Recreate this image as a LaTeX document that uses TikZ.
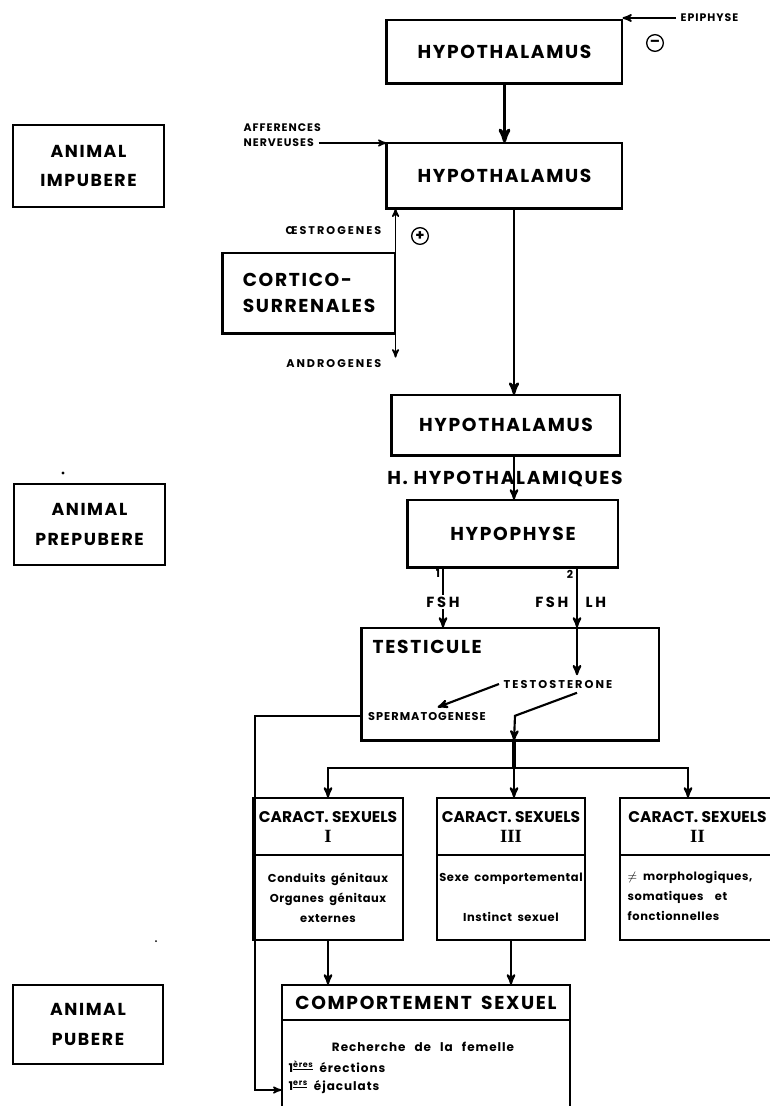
\documentclass[tikz,border=0pt]{standalone}
\usepackage{fontspec}
\setmainfont{Poppins}
\newfontfamily\spaced[LetterSpace=9]{Poppins}
\newfontfamily\widespaced[LetterSpace=18]{Poppins}
\newfontfamily\bodyfont[LetterSpace=5,WordSpace=1.8]{Poppins}
\newfontfamily\widebody[LetterSpace=8,WordSpace=2.6]{Poppins}
\newfontfamily\romanfont{Liberation Serif}
\usetikzlibrary{arrows}

% thick left and bottom edge of the heavy boxes
\newcommand\heavyside[1]{\draw[line width=2.4pt] (#1.north west) -- (#1.south west) -- (#1.south east);}

\begin{document}
\begin{tikzpicture}[x=0.75pt,y=-0.75pt,>=stealth',
  box/.style={draw,line width=0.8pt,inner sep=0pt,align=center},
  title/.style={font=\spaced\bfseries\fontsize{14}{19}\selectfont},
  animal/.style={font=\spaced\bfseries\fontsize{13}{22}\selectfont},
  caract/.style={font=\bfseries\fontsize{11.6}{15}\selectfont},
  lbl/.style={font=\widespaced\bfseries\fontsize{11}{13}\selectfont},
  mid/.style={font=\widespaced\bfseries\fontsize{8.5}{10}\selectfont},
  small/.style={font=\spaced\bfseries\fontsize{8.2}{11}\selectfont},
  body/.style={font=\bodyfont\bfseries\fontsize{8.6}{15}\selectfont},
  sign/.style={circle,draw,line width=1pt,inner sep=0pt,minimum size=12.5pt,font=\bfseries\fontsize{11}{11}\selectfont}]

  \useasboundingbox (0,0) rectangle (769,1106);

  % stages on the left
  \node[box,animal,minimum width=113.25pt,minimum height=61.5pt] (impub) at (88.5,166) {ANIMAL\\IMPUBERE};
  \node[box,animal,minimum width=113.25pt,minimum height=60.75pt] (prepub) at (89.5,524.5) {ANIMAL\\PREPUBERE};
  \node[box,animal,minimum width=112.5pt,minimum height=59.25pt] (pub) at (88,1024.5) {ANIMAL\\PUBERE};
  \fill (63,473) circle (1.6);
  \fill (156,941) circle (1);

  % upper chain
  \node[box,title,minimum width=176.25pt,minimum height=47.25pt] (hyp1) at (504.5,51.5) {HYPOTHALAMUS};
  \node[box,title,minimum width=176.25pt,minimum height=48.75pt] (hyp2) at (504.5,175.5) {HYPOTHALAMUS};
  \node[box,title,minimum width=129pt,minimum height=60pt,align=left] (cort) at (309,293) {CORTICO-\\SURRENALES};
  \node[box,title,minimum width=171pt,minimum height=45pt] (hyp3) at (506,425) {HYPOTHALAMUS};
  \node[box,title,minimum width=157.5pt,minimum height=50.25pt] (hypo) at (513,533.5) {HYPOPHYSE};
  \node[box,minimum width=222.75pt,minimum height=84pt] (testi) at (510.5,684) {};
  \heavyside{hyp1}
  \heavyside{hyp2}
  \heavyside{cort}
  \heavyside{hyp3}
  \heavyside{hypo}
  \heavyside{testi}

  \coordinate (axis) at (514,0);
  \coordinate (fsh1) at (443,0);
  \coordinate (fsh2) at (577,0);
  \coordinate (drop) at (688,0);
  \coordinate (fork) at (514,768);
  \coordinate (loop) at (255,1090);

  % inputs
  \node[small,anchor=west] (epi) at (676,18) {EPIPHYSE};
  \node[sign] (minus) at (655,43) {--};
  \draw[->,line width=1.4pt] (epi.west) -- (epi.west -| hyp1.east);
  \node[small,anchor=west] (aff1) at (239,128) {AFFERENCES};
  \node[small,anchor=west] (aff2) at (239,143) {NERVEUSES};
  \draw[->,line width=1.2pt] (aff2.east) -- (aff2.east -| hyp2.west);
  \node[small,font=\widespaced\bfseries\fontsize{8.4}{11}\selectfont,anchor=east] (oestro) at (386,231) {\OE STROGENES};
  \node[small,font=\widespaced\bfseries\fontsize{8.4}{11}\selectfont,anchor=east] (andro) at (386,364) {ANDROGENES};
  \node[sign] (plus) at (420,236) {+};
  \draw[->,line width=1.2pt] (cort.north east) -- (cort.north east |- hyp2.south);
  \draw[->,line width=1.2pt] (cort.south east) -- ++(0,24);

  \draw[->,line width=2.4pt] (hyp1) -- (hyp2);
  \draw[->,line width=2pt] (hyp2.south -| axis) -- (hyp3.north -| axis);
  \draw[->,line width=1.6pt] (hyp3.south -| axis) -- (hypo.north -| axis);
  \node[title] (hhyp) at (505,479) {H. HYPOTHALAMIQUES};

  % gonadotrophins
  \draw[->,line width=1.6pt] (hypo.south -| fsh1) -- (testi.north -| fsh1);
  \draw[->,line width=1.6pt] (hypo.south -| fsh2) -- (testi.north -| fsh2);
  \node[lbl,fill=white,inner sep=1pt] (fshA) at (443,602) {FSH};
  \node[lbl,anchor=east] (fshB) at (573,602) {FSH};
  \node[lbl,anchor=west] (lh) at (581,602) {LH};
  \node[small] (one) at (438,574) {1};
  \node[small] (two) at (570,574) {2};

  % testicule
  \node[title,anchor=west] (testlbl) at (368,647) {TESTICULE};
  \node[mid] (testo) at (558,684) {TESTOSTERONE};
  \node[mid,font=\spaced\bfseries\fontsize{8.5}{10}\selectfont] (sperm) at (427,716) {SPERMATOGENESE};
  \draw[->,line width=1.6pt] (testi.north -| fsh2) -- (testo.north -| fsh2);
  \draw[->,line width=1.6pt] (testo.west) -- ([xshift=8pt]sperm.north);
  \draw[->,line width=1.6pt] (testo.south -| fsh2) -- ++(-62,23) -- (axis |- testi.south);

  % secondary characters
  \node[box,caract,minimum width=112.5pt,minimum height=42.75pt] (c1h) at (328,826.5) {CARACT. SEXUELS\\{\romanfont\fontsize{14}{15}\selectfont I}};
  \node[box,body,minimum width=112.5pt,minimum height=63.75pt] (c1b) at (328,897.5) {Conduits génitaux\\Organes génitaux\\externes};
  \node[box,caract,minimum width=111pt,minimum height=42.75pt] (c3h) at (511,826.5) {CARACT. SEXUELS\\{\romanfont\fontsize{14}{15}\selectfont III}};
  \node[box,body,minimum width=111pt,minimum height=63.75pt] (c3b) at (511,897.5) {Sexe comportemental\\[15pt]Instinct sexuel};
  \node[box,caract,minimum width=116.25pt,minimum height=42.75pt] (c2h) at (697.5,826.5) {CARACT. SEXUELS\\{\romanfont\fontsize{14}{15}\selectfont II}};
  \node[box,minimum width=116.25pt,minimum height=63.75pt] (c2b) at (697.5,897.5) {};
  \node[body,anchor=north west,align=left] (c2txt) at (623,867) {$\neq$\enspace morphologiques,\\somatiques\quad et\\fonctionnelles};

  \draw[line width=2.4pt] (axis |- testi.south) -- (fork);
  \draw[->,line width=1.6pt] (fork) -| (c1h.north);
  \draw[->,line width=1.6pt] (fork) -- (fork |- c3h.north);
  \draw[->,line width=1.6pt] (fork) -| (drop |- c2h.north);

  % behaviour
  \node[box,title,minimum width=216pt,minimum height=26.25pt] (cth) at (426,1002.5) {COMPORTEMENT\enspace SEXUEL};
  \node[box,minimum width=216pt,minimum height=71.25pt] (ctb) at (426,1067.5) {};
  \node[body,font=\widebody\bfseries\fontsize{9}{15}\selectfont] (rech) at (423,1047) {Recherche de la femelle};
  \node[body,font=\widebody\bfseries\fontsize{9}{15}\selectfont,anchor=west] (erec) at (284,1067) {1\textsuperscript{\underline{ères}}\enspace érections};
  \node[body,font=\widebody\bfseries\fontsize{9}{15}\selectfont,anchor=west] (ejac) at (284,1087) {1\textsuperscript{\underline{ers}}\enspace éjaculats};
  \draw[->,line width=1.6pt] (c1b.south) -- (c1b.south |- cth.north);
  \draw[->,line width=1.6pt] (c3b.south) -- (c3b.south |- cth.north);
  \draw[->,line width=1.2pt] (sperm.west -| testi.west) -| (loop) -- (loop -| ctb.west);
\end{tikzpicture}
\end{document}
